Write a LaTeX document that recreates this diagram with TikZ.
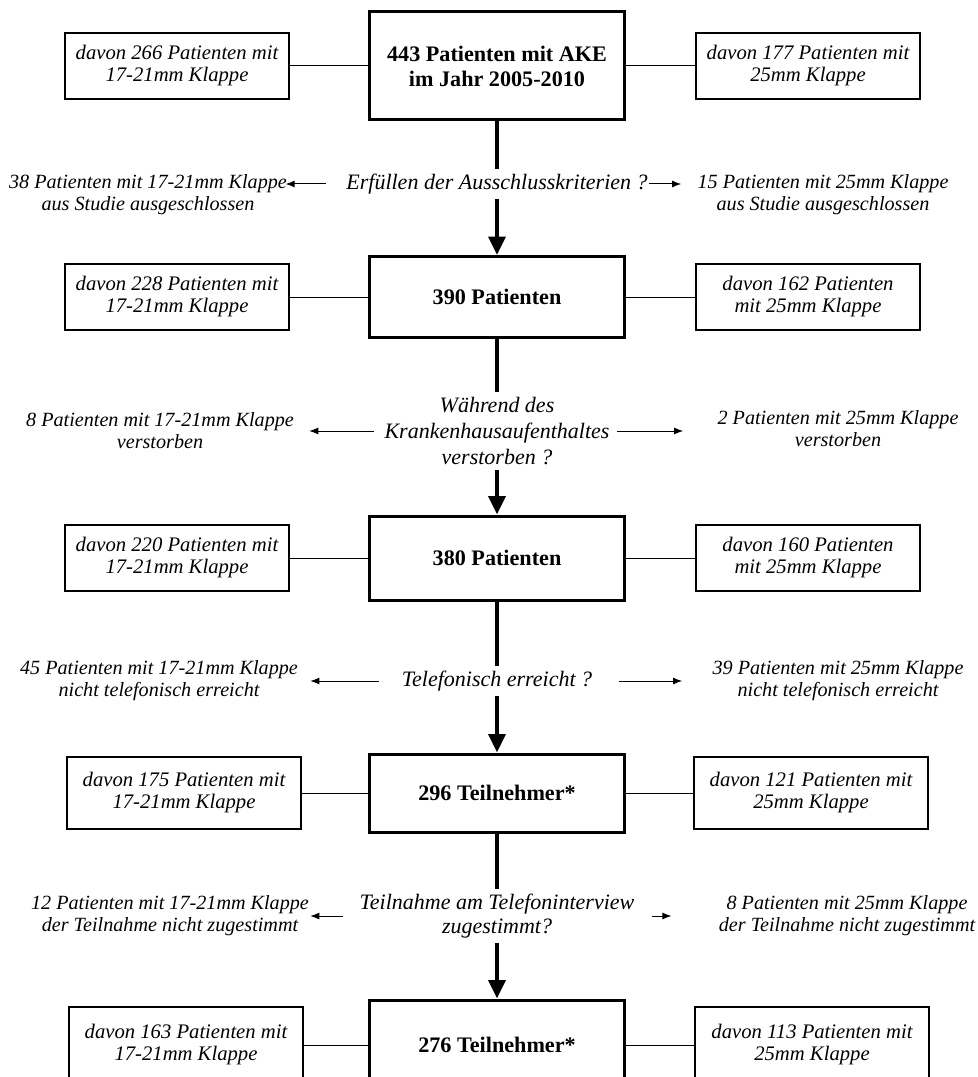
\documentclass[tikz,border=0pt]{standalone}
\usepackage{fontspec}
\setmainfont{Liberation Serif}
\usetikzlibrary{arrows.meta}

\begin{document}
\begin{tikzpicture}[x=0.6pt, y=-0.6pt,
    mainbox/.style={draw, line width=1.8pt, minimum width=153pt, align=center,
      font=\fontsize{13.3}{15}\selectfont\bfseries},
    sidebox/.style={draw, line width=1.1pt, minimum width=134pt, minimum height=39.6pt,
      inner sep=0pt, align=center, font=\fontsize{12.4}{13.2}\selectfont\itshape},
    question/.style={align=center, inner xsep=0pt, inner ysep=3pt,
      font=\fontsize{13.2}{15.6}\selectfont\itshape},
    exclnote/.style={align=center, inner sep=0pt, font=\fontsize{12.1}{13.2}\selectfont\itshape},
    spineline/.style={line width=2.4pt},
    spinearrow/.style={line width=2.4pt, -{Triangle[length=11pt,width=10pt]}},
    boxlink/.style={line width=0.6pt},
    exclarrow/.style={line width=0.6pt, -{Latex[length=5.5pt,width=4.2pt]}}]

      \useasboundingbox (0,0) rectangle (977,1077);

      \node[mainbox, minimum height=64.8pt] (1) at (497,66) {443 Patienten mit AKE\\im Jahr 2005-2010};
      \node[sidebox] (1l) at (177,66) {davon 266 Patienten mit\\17-21mm Klappe};
      \node[sidebox] (1r) at (808,66) {davon 177 Patienten mit\\25mm Klappe};

      \node[question] (q1) at (497,184) {Erfüllen der Ausschlusskriterien ?};
      \node[exclnote] (x1l) at (148,195) {38 Patienten mit 17-21mm Klappe\\aus Studie ausgeschlossen};
      \node[exclnote] (x1r) at (823,195) {15 Patienten mit 25mm Klappe\\aus Studie ausgeschlossen};

      \node[mainbox, minimum height=48.6pt] (2) at (497,297) {390 Patienten};
      \node[sidebox] (2l) at (177,297) {davon 228 Patienten mit\\17-21mm Klappe};
      \node[sidebox] (2r) at (808,297) {davon 162 Patienten\\mit 25mm Klappe};

      \node[question] (q2) at (497,431) {Während des\\Krankenhausaufenthaltes\\verstorben ?};
      \node[exclnote] (x2l) at (160,431) {8 Patienten mit 17-21mm Klappe\\verstorben};
      \node[exclnote] (x2r) at (838,429) {2 Patienten mit 25mm Klappe\\verstorben};

      \node[mainbox, minimum height=50.4pt] (3) at (497,558) {380 Patienten};
      \node[sidebox] (3l) at (177,558) {davon 220 Patienten mit\\17-21mm Klappe};
      \node[sidebox] (3r) at (808,558) {davon 160 Patienten\\mit 25mm Klappe};

      \node[question] (q3) at (497,681) {Telefonisch erreicht ?};
      \node[exclnote] (x3l) at (159,681) {45 Patienten mit 17-21mm Klappe\\nicht telefonisch erreicht};
      \node[exclnote] (x3r) at (838,681) {39 Patienten mit 25mm Klappe\\nicht telefonisch erreicht};

      \node[mainbox, minimum height=46.8pt] (4) at (497,793) {296 Teilnehmer*};
      \node[sidebox, minimum width=140pt, minimum height=43.2pt] (4l) at (184,793) {davon 175 Patienten mit\\17-21mm Klappe};
      \node[sidebox, minimum width=140pt, minimum height=43.2pt] (4r) at (811,793) {davon 121 Patienten mit\\25mm Klappe};

      \node[question, font=\fontsize{13.2}{14}\selectfont\itshape] (q4) at (497,916) {Teilnahme am Telefoninterview\\zugestimmt?};
      \node[exclnote] (x4l) at (170,916) {12 Patienten mit 17-21mm Klappe\\der Teilnahme nicht zugestimmt};
      \node[exclnote] (x4r) at (847,916) {8 Patienten mit 25mm Klappe\\der Teilnahme nicht zugestimmt};

      \node[mainbox, minimum height=54pt] (5) at (497,1045) {276 Teilnehmer*};
      \node[sidebox, minimum width=140pt, minimum height=45.6pt] (5l) at (186,1045) {davon 163 Patienten mit\\17-21mm Klappe};
      \node[sidebox, minimum width=140pt, minimum height=45.6pt] (5r) at (812,1045) {davon 113 Patienten mit\\25mm Klappe};

      % Hauptpfad
      \draw (1) edge[spineline] (q1);
      \draw (q1) edge[spinearrow] (2);
      \draw (2) edge[spineline] (q2);
      \draw (q2) edge[spinearrow] (3);
      \draw (3) edge[spineline] (q3);
      \draw (q3) edge[spinearrow] (4);
      \draw (4) edge[spineline] (q4);
      \draw (q4) edge[spinearrow] (5);

      % Klappengroessen
      \foreach \r in {1,...,5} {
        \draw (\r l) edge[boxlink] (\r);
        \draw (\r) edge[boxlink] (\r r);
      }

      % Ausschluesse
      \draw[exclarrow, shorten <=12pt, shorten >=-1pt] (q1.west) -- (q1.west -| x1l.east);
      \draw[exclarrow, shorten <=0.5pt, shorten >=9.6pt] (q1.east) -- (q1.east -| x1r.west);
      \draw[exclarrow, shorten <=6pt, shorten >=9pt] (q2.west) -- (q2.west -| x2l.east);
      \draw[exclarrow, shorten <=4.2pt, shorten >=20.4pt] (q2.east) -- (q2.east -| x2r.west);
      \draw[exclarrow, shorten <=13.8pt, shorten >=7.2pt] (q3.west) -- (q3.west -| x3l.east);
      \draw[exclarrow, shorten <=16.2pt, shorten >=18pt] (q3.east) -- (q3.east -| x3r.west);
      \draw[exclarrow, shorten <=9.6pt, shorten >=0.6pt] (q4.west) -- (q4.west -| x4l.east);
      \draw[exclarrow, shorten <=10.2pt, shorten >=28.2pt] (q4.east) -- (q4.east -| x4r.west);

    \end{tikzpicture}
\end{document}
